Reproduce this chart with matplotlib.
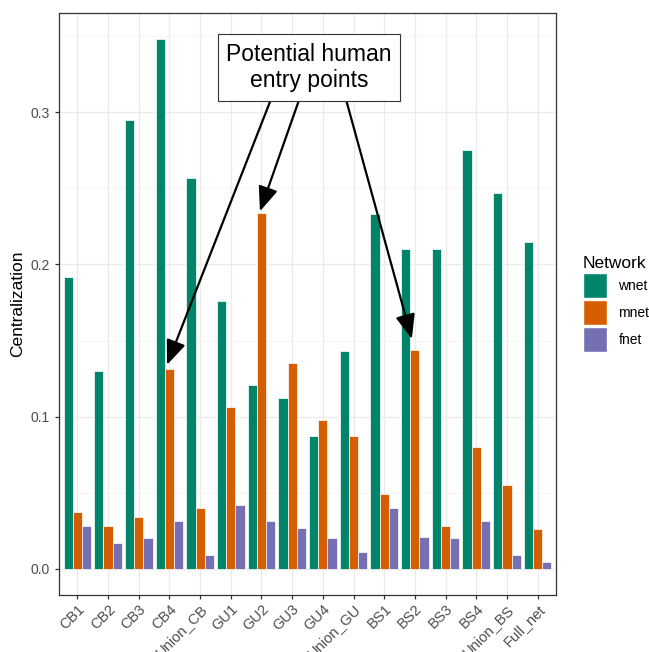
"""Centralization by network layer, grouped bars"""
import numpy as np
import matplotlib
matplotlib.use("Agg")
from matplotlib import pyplot as plt
from matplotlib.patches import Patch
from matplotlib.transforms import ScaledTranslation

plt.rcParams['font.family'] = ['Liberation Sans', 'DejaVu Sans']

# data
sites = ['CB1', 'CB2', 'CB3', 'CB4', 'Union_CB', 'GU1', 'GU2', 'GU3', 'GU4',
         'Union_GU', 'BS1', 'BS2', 'BS3', 'BS4', 'Union_BS', 'Full_net']
wnet = [0.192, 0.130, 0.295, 0.348, 0.257, 0.176, 0.121, 0.112, 0.087,
        0.143, 0.233, 0.210, 0.210, 0.275, 0.247, 0.215]
mnet = [0.037, 0.028, 0.034, 0.131, 0.040, 0.106, 0.234, 0.135, 0.098,
        0.087, 0.049, 0.144, 0.028, 0.080, 0.055, 0.026]
fnet = [0.028, 0.017, 0.020, 0.031, 0.009, 0.042, 0.031, 0.027, 0.020,
        0.011, 0.040, 0.021, 0.020, 0.031, 0.009, 0.004]
networks = ['wnet', 'mnet', 'fnet']
colours = ['#00856A', '#D55E00', '#7570B3']

fig = plt.figure(figsize=(6.49, 6.52), dpi=100)
ax = fig.add_axes([0.0909, 0.0874, 0.7658, 0.8926])

x = np.arange(1, len(sites) + 1)
w = 0.3
for k, (vals, col) in enumerate(zip([wnet, mnet, fnet], colours)):
    ax.bar(x + (k - 1) * w, vals, width=w, color=col, edgecolor='white',
           linewidth=0.5, zorder=3)

ymax = max(wnet)
ax.set_xlim(0.4, len(sites) + 0.6)
ax.set_ylim(-0.05 * ymax, 1.05 * ymax)
ax.set_yticks([0.0, 0.1, 0.2, 0.3])
ax.set_yticklabels(['0.0', '0.1', '0.2', '0.3'])
ax.set_yticks([0.05, 0.15, 0.25, 0.35], minor=True)
ax.set_xticks(x)
ax.set_xticklabels(sites, rotation=45, ha='right', va='top',
                   rotation_mode='anchor', fontsize=10.5)
# ggplot's hjust/vjust with angle=45 sits the labels a bit to the right
shift = ScaledTranslation(5 / 100, 0, fig.dpi_scale_trans)
for lab in ax.get_xticklabels():
    lab.set_transform(lab.get_transform() + shift)

# ggplot-like theme
ax.set_facecolor('white')
ax.grid(which='major', color='#EBEBEB', linewidth=1.0, zorder=0)
ax.grid(which='minor', axis='y', color='#F2F2F2', linewidth=0.6, zorder=0)
for s in ax.spines.values():
    s.set_color('#333333')
    s.set_linewidth(0.9)
ax.tick_params(axis='both', which='major', colors='#333333', length=3,
               width=0.9, labelcolor='#4D4D4D')
ax.tick_params(axis='y', which='major', labelsize=10)
ax.tick_params(axis='x', which='major', pad=2)
ax.tick_params(axis='y', which='minor', length=0)
ax.set_ylabel('Centralization', fontsize=12.5, labelpad=4)

# annotation
arrow_ends = [(7.53, 0.32, 3.92, 0.134), (8.43, 0.32, 6.95, 0.235),
              (9.60, 0.32, 11.90, 0.151)]
for x0, y0, x1, y1 in arrow_ends:
    ax.annotate('', xy=(x1, y1), xytext=(x0, y0), zorder=4,
                arrowprops=dict(arrowstyle='-|>,head_length=1.5,head_width=0.6',
                                color='black', lw=1.6, shrinkA=0, shrinkB=0))
ax.text(8.55, 0.3296, 'Potential human\nentry points', ha='center',
        va='center', fontsize=16.5, linespacing=1.15, zorder=5,
        bbox=dict(boxstyle='square,pad=0.38', facecolor='white',
                  edgecolor='#333333', linewidth=0.8))

# legend
handles = [Patch(facecolor=c, edgecolor='white', label=n)
           for c, n in zip(colours, networks)]
leg = ax.legend(handles=handles, title='Network', loc='center left',
                bbox_to_anchor=(1.043, 0.5), frameon=False, fontsize=10,
                title_fontsize=12.5, handlelength=1.75, handleheight=2.4,
                labelspacing=0.15, handletextpad=0.8, borderaxespad=0)
leg._legend_box.align = 'left'

plt.savefig('out.png', dpi=100)
plt.close()
